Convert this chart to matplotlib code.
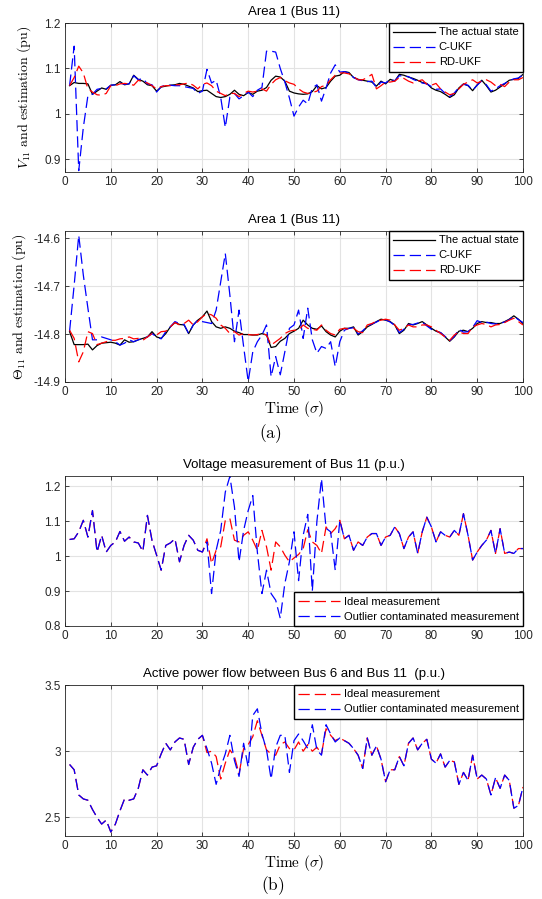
import numpy as np
import matplotlib
matplotlib.use("Agg")
import matplotlib.pyplot as plt

plt.rcParams['font.family'] = ['Liberation Sans', 'DejaVu Sans']
plt.rcParams['mathtext.fontset'] = 'cm'
plt.rcParams['axes.unicode_minus'] = False

t = np.arange(1, 101)

# ---- Area 1 (Bus 11): voltage magnitude ----
v_actual = [1.062, 1.069, 1.067, 1.067, 1.066, 1.043, 1.050, 1.057, 1.054, 1.063,
            1.064, 1.071, 1.064, 1.066, 1.085, 1.076, 1.072, 1.064, 1.062, 1.050,
            1.059, 1.061, 1.063, 1.064, 1.067, 1.065, 1.061, 1.057, 1.049, 1.051,
            1.052, 1.045, 1.038, 1.036, 1.038, 1.043, 1.052, 1.043, 1.040, 1.047,
            1.043, 1.050, 1.052, 1.058, 1.074, 1.083, 1.081, 1.072, 1.050, 1.046,
            1.044, 1.043, 1.044, 1.049, 1.062, 1.055, 1.058, 1.072, 1.083, 1.085,
            1.093, 1.091, 1.080, 1.076, 1.074, 1.072, 1.070, 1.061, 1.072, 1.066,
            1.076, 1.072, 1.087, 1.085, 1.081, 1.078, 1.074, 1.069, 1.067, 1.057,
            1.052, 1.049, 1.043, 1.036, 1.042, 1.057, 1.066, 1.062, 1.051, 1.064,
            1.074, 1.062, 1.048, 1.052, 1.059, 1.066, 1.074, 1.076, 1.078, 1.087]
v_cukf = [1.062, 1.149, 0.875, 0.970, 1.040, 1.043, 1.054, 1.056, 1.055, 1.063,
          1.064, 1.068, 1.065, 1.066, 1.084, 1.075, 1.078, 1.066, 1.064, 1.048,
          1.060, 1.063, 1.063, 1.062, 1.062, 1.060, 1.058, 1.056, 1.045, 1.050,
          1.098, 1.068, 1.074, 1.036, 0.970, 1.037, 1.045, 1.033, 1.040, 1.048,
          1.038, 1.052, 1.058, 1.138, 1.138, 1.136, 1.100, 1.070, 1.035, 0.995,
          1.015, 1.030, 1.022, 1.057, 1.064, 1.028, 1.057, 1.090, 1.108, 1.092,
          1.093, 1.090, 1.080, 1.075, 1.073, 1.071, 1.072, 1.058, 1.070, 1.068,
          1.076, 1.073, 1.084, 1.083, 1.082, 1.076, 1.072, 1.068, 1.066, 1.060,
          1.054, 1.055, 1.045, 1.038, 1.046, 1.058, 1.065, 1.063, 1.052, 1.063,
          1.073, 1.064, 1.050, 1.055, 1.062, 1.067, 1.073, 1.077, 1.079, 1.086]
v_rdukf = [1.062, 1.080, 1.105, 1.090, 1.055, 1.048, 1.042, 1.041, 1.045, 1.062,
           1.062, 1.066, 1.067, 1.066, 1.063, 1.074, 1.070, 1.068, 1.062, 1.055,
           1.060, 1.062, 1.062, 1.064, 1.064, 1.066, 1.068, 1.063, 1.055, 1.065,
           1.068, 1.062, 1.050, 1.045, 1.040, 1.045, 1.045, 1.038, 1.045, 1.050,
           1.048, 1.050, 1.055, 1.050, 1.065, 1.075, 1.080, 1.073, 1.068, 1.065,
           1.055, 1.048, 1.045, 1.047, 1.050, 1.060, 1.063, 1.075, 1.085, 1.090,
           1.090, 1.088, 1.082, 1.075, 1.075, 1.080, 1.087, 1.055, 1.062, 1.070,
           1.070, 1.072, 1.080, 1.078, 1.072, 1.068, 1.072, 1.075, 1.065, 1.063,
           1.067, 1.055, 1.048, 1.042, 1.045, 1.055, 1.065, 1.070, 1.075, 1.068,
           1.072, 1.075, 1.070, 1.062, 1.065, 1.060, 1.070, 1.075, 1.075, 1.080]

# ---- Area 1 (Bus 11): voltage angle ----
a_actual = [-14.795, -14.822, -14.822, -14.822, -14.821, -14.833, -14.824, -14.819, -14.818, -14.817,
            -14.819, -14.823, -14.812, -14.817, -14.816, -14.812, -14.809, -14.806, -14.795, -14.806,
            -14.809, -14.799, -14.785, -14.776, -14.780, -14.781, -14.799, -14.781, -14.771, -14.764,
            -14.752, -14.774, -14.785, -14.788, -14.785, -14.788, -14.794, -14.797, -14.801, -14.801,
            -14.802, -14.802, -14.799, -14.802, -14.828, -14.826, -14.815, -14.809, -14.799, -14.794,
            -14.788, -14.771, -14.781, -14.788, -14.790, -14.783, -14.795, -14.802, -14.806, -14.794,
            -14.788, -14.788, -14.785, -14.802, -14.795, -14.785, -14.780, -14.774, -14.769, -14.771,
            -14.774, -14.781, -14.799, -14.792, -14.778, -14.781, -14.778, -14.774, -14.781, -14.788,
            -14.794, -14.797, -14.806, -14.815, -14.806, -14.794, -14.792, -14.795, -14.788, -14.778,
            -14.774, -14.776, -14.776, -14.778, -14.778, -14.774, -14.769, -14.762, -14.769, -14.778]
a_cukf = [-14.794, -14.698, -14.594, -14.677, -14.746, -14.812, -14.812, -14.806, -14.809, -14.812,
          -14.816, -14.823, -14.819, -14.812, -14.816, -14.812, -14.809, -14.806, -14.799, -14.806,
          -14.810, -14.795, -14.785, -14.774, -14.778, -14.780, -14.799, -14.781, -14.771, -14.774,
          -14.776, -14.778, -14.750, -14.691, -14.632, -14.719, -14.816, -14.750, -14.826, -14.899,
          -14.837, -14.816, -14.802, -14.781, -14.889, -14.847, -14.885, -14.837, -14.788, -14.781,
          -14.750, -14.809, -14.746, -14.812, -14.840, -14.826, -14.830, -14.816, -14.868, -14.816,
          -14.792, -14.788, -14.787, -14.800, -14.793, -14.784, -14.779, -14.775, -14.770, -14.770,
          -14.775, -14.782, -14.797, -14.790, -14.780, -14.780, -14.777, -14.775, -14.783, -14.790,
          -14.794, -14.797, -14.805, -14.814, -14.805, -14.790, -14.796, -14.795, -14.786, -14.772,
          -14.776, -14.775, -14.778, -14.779, -14.777, -14.775, -14.770, -14.763, -14.770, -14.776]
a_rdukf = [-14.792, -14.809, -14.858, -14.837, -14.795, -14.799, -14.822, -14.819, -14.816, -14.813,
           -14.813, -14.810, -14.809, -14.806, -14.810, -14.809, -14.813, -14.806, -14.799, -14.802,
           -14.795, -14.794, -14.785, -14.776, -14.781, -14.778, -14.771, -14.781, -14.774, -14.764,
           -14.757, -14.760, -14.767, -14.781, -14.788, -14.799, -14.795, -14.802, -14.799, -14.801,
           -14.802, -14.801, -14.799, -14.802, -14.823, -14.816, -14.809, -14.799, -14.794, -14.792,
           -14.792, -14.781, -14.788, -14.790, -14.792, -14.781, -14.792, -14.799, -14.802, -14.790,
           -14.788, -14.790, -14.788, -14.795, -14.797, -14.781, -14.778, -14.773, -14.771, -14.769,
           -14.771, -14.781, -14.792, -14.788, -14.781, -14.785, -14.785, -14.781, -14.781, -14.785,
           -14.792, -14.799, -14.806, -14.813, -14.802, -14.795, -14.799, -14.799, -14.785, -14.781,
           -14.778, -14.780, -14.785, -14.781, -14.780, -14.776, -14.771, -14.767, -14.774, -14.781]

# ---- Voltage measurement of Bus 11 ----
vm_ideal = [1.048, 1.050, 1.070, 1.103, 1.055, 1.131, 1.012, 1.060, 1.012, 1.031,
            1.041, 1.071, 1.043, 1.055, 1.041, 1.038, 1.014, 1.117, 1.045, 1.003,
            0.960, 1.031, 1.038, 1.050, 0.984, 1.031, 1.060, 1.046, 1.017, 1.012,
            1.050, 0.979, 1.017, 1.027, 1.103, 1.108, 1.046, 1.041, 1.060, 1.070,
            1.046, 1.017, 1.074, 1.027, 0.960, 1.041, 1.027, 1.003, 0.984, 0.995,
            1.005, 1.022, 1.076, 1.041, 1.031, 1.008, 1.084, 1.065, 1.079, 1.103,
            1.050, 1.060, 1.017, 1.041, 1.031, 1.055, 1.065, 1.065, 1.031, 1.055,
            1.060, 1.084, 1.065, 1.022, 1.055, 1.070, 1.008, 1.070, 1.112, 1.084,
            1.041, 1.070, 1.060, 1.055, 1.074, 1.060, 1.122, 1.060, 0.989, 1.012,
            1.031, 1.046, 1.074, 1.008, 1.079, 1.008, 1.012, 1.008, 1.022, 1.022]
vm_outlier = [1.048, 1.050, 1.070, 1.103, 1.055, 1.131, 1.012, 1.060, 1.012, 1.031,
              1.041, 1.071, 1.043, 1.055, 1.041, 1.038, 1.014, 1.117, 1.045, 1.003,
              0.960, 1.031, 1.038, 1.050, 0.984, 1.031, 1.060, 1.046, 1.017, 1.012,
              1.041, 0.893, 1.017, 1.074, 1.184, 1.229, 1.141, 0.984, 1.074, 1.131,
              1.174, 1.012, 0.893, 0.960, 0.893, 0.874, 0.822, 0.922, 0.984, 1.070,
              0.930, 1.060, 1.120, 0.900, 1.100, 1.222, 1.080, 1.070, 0.960, 1.103,
              1.050, 1.060, 1.017, 1.041, 1.031, 1.055, 1.065, 1.065, 1.031, 1.055,
              1.060, 1.084, 1.065, 1.022, 1.055, 1.070, 1.008, 1.070, 1.112, 1.084,
              1.041, 1.070, 1.060, 1.055, 1.074, 1.060, 1.122, 1.060, 0.989, 1.012,
              1.031, 1.046, 1.074, 1.008, 1.079, 1.008, 1.012, 1.008, 1.022, 1.022]

# ---- Active power flow between Bus 6 and Bus 11 ----
pf_ideal = [2.90, 2.86, 2.67, 2.64, 2.63, 2.56, 2.50, 2.45, 2.48, 2.39,
            2.45, 2.55, 2.64, 2.63, 2.64, 2.72, 2.86, 2.82, 2.88, 2.89,
            2.98, 3.06, 3.01, 3.07, 3.10, 3.09, 2.90, 3.03, 3.09, 3.12,
            2.99, 3.00, 2.96, 2.79, 2.91, 3.01, 2.96, 2.83, 3.02, 3.05,
            3.11, 3.23, 3.12, 3.01, 2.98, 2.97, 3.05, 3.07, 3.02, 3.01,
            3.07, 3.00, 3.05, 3.00, 3.03, 2.98, 3.17, 3.12, 3.08, 3.10,
            3.08, 3.06, 3.02, 2.97, 2.87, 3.10, 2.97, 3.04, 2.94, 2.77,
            2.86, 2.86, 2.96, 2.89, 3.06, 3.10, 3.01, 3.06, 3.09, 2.94,
            2.91, 2.98, 2.88, 2.93, 2.92, 2.75, 2.84, 2.78, 2.97, 2.79,
            2.82, 2.79, 2.67, 2.80, 2.72, 2.82, 2.78, 2.57, 2.59, 2.73]
pf_outlier = [2.90, 2.86, 2.67, 2.64, 2.63, 2.56, 2.50, 2.45, 2.48, 2.39,
              2.45, 2.55, 2.64, 2.63, 2.64, 2.72, 2.86, 2.82, 2.88, 2.89,
              2.98, 3.06, 3.01, 3.07, 3.10, 3.09, 2.90, 3.03, 3.09, 3.12,
              3.02, 2.91, 2.75, 2.88, 2.98, 3.12, 2.93, 2.81, 3.06, 2.88,
              3.27, 3.32, 3.13, 3.01, 2.79, 3.03, 3.12, 3.12, 2.84, 3.08,
              3.13, 3.08, 3.02, 3.20, 3.01, 2.97, 3.20, 3.13, 3.07, 3.10,
              3.08, 3.06, 3.02, 2.97, 2.87, 3.10, 2.97, 3.04, 2.94, 2.77,
              2.86, 2.86, 2.96, 2.89, 3.06, 3.10, 3.01, 3.06, 3.09, 2.94,
              2.91, 2.98, 2.88, 2.93, 2.92, 2.75, 2.84, 2.78, 2.97, 2.79,
              2.82, 2.79, 2.67, 2.80, 2.72, 2.82, 2.78, 2.57, 2.59, 2.73]

W, H = 542, 899
fig = plt.figure(figsize=(W / 100, H / 100), dpi=100)

def make_ax(top, bottom):
    ax = fig.add_axes([65 / W, 1 - bottom / H, (523 - 65) / W, (bottom - top) / H])
    ax.set_xlim(0, 100)
    ax.set_xticks(range(0, 101, 10))
    ax.grid(True, color='#e3e3e3', linewidth=0.8)
    ax.set_axisbelow(True)
    ax.tick_params(direction='in', top=True, right=True, labelsize=8.5,
                   colors='#262626', length=3, width=0.6, pad=3)
    for s in ax.spines.values():
        s.set_color('#262626')
        s.set_linewidth(0.6)
    return ax

dash = (0, (9, 4))
leg_kw = dict(fontsize=8, fancybox=False, edgecolor='black', framealpha=1,
              borderaxespad=0, handlelength=3.8, labelspacing=0.45,
              borderpad=0.4, handletextpad=0.3)

ax1 = make_ax(23, 172)
ax1.plot(t, v_actual, color='black', lw=0.9, label='The actual state')
ax1.plot(t, v_cukf, color='blue', lw=0.9, ls=dash, label='C-UKF')
ax1.plot(t, v_rdukf, color='red', lw=0.9, ls=dash, label='RD-UKF')
ax1.set_ylim(0.872, 1.2)
ax1.set_yticks([0.9, 1.0, 1.1, 1.2])
ax1.set_yticklabels(['0.9', '1', '1.1', '1.2'])
ax1.set_title('Area 1 (Bus 11)', fontsize=9.5, pad=6)
ax1.set_ylabel(r'$V_{11}\ \mathrm{and\ estimation\ (pu)}$', fontsize=10)
ax1.yaxis.set_label_coords(-32 / 458, 0.5)
ax1.legend(loc='upper right', **leg_kw)

ax2 = make_ax(231, 382)
ax2.plot(t, a_actual, color='black', lw=0.9, label='The actual state')
ax2.plot(t, a_cukf, color='blue', lw=0.9, ls=dash, label='C-UKF')
ax2.plot(t, a_rdukf, color='red', lw=0.9, ls=dash, label='RD-UKF')
ax2.set_ylim(-14.9, -14.585)
ax2.set_yticks([-14.9, -14.8, -14.7, -14.6])
ax2.set_title('Area 1 (Bus 11)', fontsize=9.5, pad=6)
ax2.set_ylabel(r'$\Theta_{11}\ \mathrm{and\ estimation\ (pu)}$', fontsize=10)
ax2.yaxis.set_label_coords(-37 / 458, 0.5)
ax2.set_xlabel(r'$\mathrm{Time}\ (\sigma)$', fontsize=11)
ax2.xaxis.set_label_coords(0.5, -17 / 151)
ax2.legend(loc='upper right', **leg_kw)

ax3 = make_ax(476, 626)
ax3.plot(t, vm_ideal, color='red', lw=0.9, ls=dash, label='Ideal measurement')
ax3.plot(t, vm_outlier, color='blue', lw=0.9, ls=dash, label='Outlier contaminated measurement')
ax3.set_ylim(0.8, 1.23)
ax3.set_yticks([0.8, 0.9, 1.0, 1.1, 1.2])
ax3.set_yticklabels(['0.8', '0.9', '1', '1.1', '1.2'])
ax3.set_title('Voltage measurement of Bus 11 (p.u.)', fontsize=9.5, pad=6)
ax3.legend(loc='lower right', **leg_kw)

ax4 = make_ax(685, 836)
ax4.plot(t, pf_ideal, color='red', lw=0.9, ls=dash, label='Ideal measurement')
ax4.plot(t, pf_outlier, color='blue', lw=0.9, ls=dash, label='Outlier contaminated measurement')
ax4.set_ylim(2.36, 3.5)
ax4.set_yticks([2.5, 3.0, 3.5])
ax4.set_yticklabels(['2.5', '3', '3.5'])
ax4.set_title('Active power flow between Bus 6 and Bus 11  (p.u.)', fontsize=9.5, pad=6)
ax4.set_xlabel(r'$\mathrm{Time}\ (\sigma)$', fontsize=11)
ax4.xaxis.set_label_coords(0.5, -17 / 151)
ax4.legend(loc='upper right', **leg_kw)

fig.text(270 / W, 1 - 434 / H, r'$\mathrm{(a)}$', fontsize=12.5, ha='center', va='center')
fig.text(273 / W, 1 - 886 / H, r'$\mathrm{(b)}$', fontsize=12.5, ha='center', va='center')

fig.savefig('out.png', dpi=100)
